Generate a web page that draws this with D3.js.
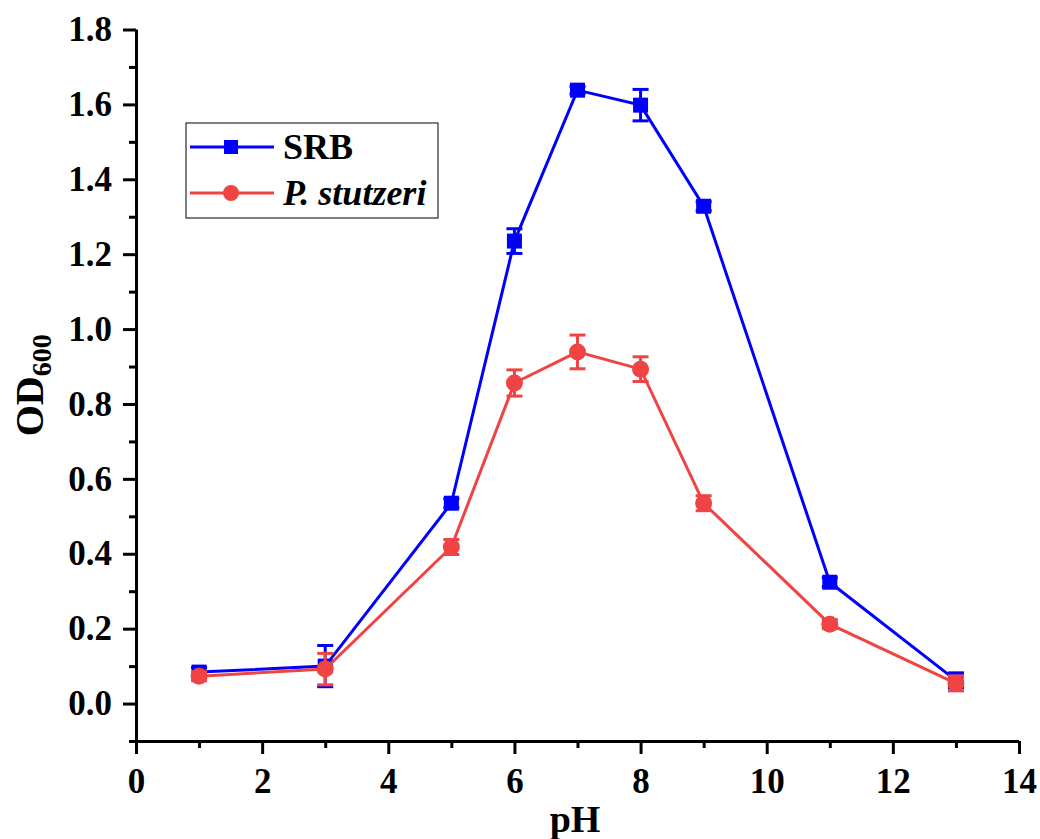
<!DOCTYPE html>
<html>
<head>
<meta charset="utf-8">
<script src="https://cdn.jsdelivr.net/npm/d3@7"></script>
<style>
    body { margin: 0; background: #fff; }
    svg text { font-family: "Liberation Serif", "Times New Roman", serif; font-weight: bold; }
</style>
</head>
<body>
<div id="chart"></div>
<script>
// pH values and OD600 readings
const phValues = [1, 3, 5, 6, 7, 8, 9, 11, 13];
const srbValues = [0.084, 0.100, 0.535, 1.235, 1.638, 1.598, 1.328, 0.324, 0.062];
const srbErrors = [0.012, 0.055, 0.012, 0.033, 0.010, 0.042, 0.012, 0.012, 0.020];
const stutzeriValues = [0.073, 0.092, 0.418, 0.856, 0.939, 0.893, 0.535, 0.212, 0.054];
const stutzeriErrors = [0.012, 0.042, 0.020, 0.035, 0.045, 0.033, 0.020, 0.012, 0.020];
const xTicks = [0, 2, 4, 6, 8, 10, 12, 14];
const yTicks = [0.0, 0.2, 0.4, 0.6, 0.8, 1.0, 1.2, 1.4, 1.6, 1.8];

const width = 1040, height = 839;
const plot = { left: 136, right: 1019, top: 29.5, bottom: 741 };

let svg = d3.select("#chart").append("svg")
    .attr("width", width)
    .attr("height", height);

let x = d3.scaleLinear().domain([0, 14]).range([plot.left, plot.right]);
let y = d3.scaleLinear().domain([-0.1, 1.8]).range([plot.bottom, plot.top]);

// axes: major ticks with labels, minor ticks in between
let xAxis = svg.append("g")
    .attr("transform", "translate(0," + plot.bottom + ")")
    .call(d3.axisBottom(x).tickValues(xTicks).tickSize(13).tickPadding(14).tickFormat(d3.format("d")));
svg.append("g")
    .attr("transform", "translate(0," + plot.bottom + ")")
    .call(d3.axisBottom(x).tickValues(d3.range(1, 14, 2)).tickSize(7).tickFormat(""))
    .select(".domain").remove();

let yAxis = svg.append("g")
    .attr("transform", "translate(" + plot.left + ",0)")
    .call(d3.axisLeft(y).tickValues(yTicks).tickSize(13).tickPadding(11).tickFormat(d3.format(".1f")));
svg.append("g")
    .attr("transform", "translate(" + plot.left + ",0)")
    .call(d3.axisLeft(y).tickValues(d3.range(-0.1, 1.75, 0.2)).tickSize(7).tickFormat(""))
    .select(".domain").remove();

svg.selectAll(".domain").attr("stroke", "#000").attr("stroke-width", 3);
xAxis.select(".domain").attr("d", "M" + (plot.left - 1.5) + ",0.5H" + plot.right);
yAxis.select(".domain").attr("d", "M0.5," + plot.top + "V" + (plot.bottom + 1.5));
svg.selectAll(".tick line").attr("stroke", "#000").attr("stroke-width", 3);
svg.selectAll(".tick text").attr("fill", "#000").style("font-size", "35px");

// axis titles
svg.append("text")
    .attr("x", 575)
    .attr("y", 832)
    .attr("text-anchor", "middle")
    .style("font-size", "38px")
    .text("pH");

let yTitle = svg.append("text")
    .attr("transform", "translate(43," + y(0.85) + ") rotate(-90)")
    .attr("text-anchor", "middle")
    .style("font-size", "40px");
yTitle.append("tspan").text("OD");
yTitle.append("tspan").attr("dy", 8).style("font-size", "28px").text("600");

// series
const series = [
    { name: "SRB", values: srbValues, errors: srbErrors, color: "#0000ff", shape: "square" },
    { name: "P. stutzeri", values: stutzeriValues, errors: stutzeriErrors, color: "#f04444", shape: "circle" }
];

let line = d3.line().x(d => x(d.ph)).y(d => y(d.v));

series.forEach(function (s) {
    let pts = phValues.map((ph, i) => ({ ph: ph, v: s.values[i], e: s.errors[i] }));
    let g = svg.append("g");

    g.append("path")
        .datum(pts)
        .attr("fill", "none")
        .attr("stroke", s.color)
        .attr("stroke-width", 3)
        .attr("d", line);

    let eb = g.selectAll(".err").data(pts).enter().append("g")
        .attr("stroke", s.color).attr("stroke-width", 3);
    eb.append("line")
        .attr("x1", d => x(d.ph)).attr("x2", d => x(d.ph))
        .attr("y1", d => y(d.v + d.e)).attr("y2", d => y(d.v - d.e));
    eb.append("line")
        .attr("x1", d => x(d.ph) - 8).attr("x2", d => x(d.ph) + 8)
        .attr("y1", d => y(d.v + d.e)).attr("y2", d => y(d.v + d.e));
    eb.append("line")
        .attr("x1", d => x(d.ph) - 8).attr("x2", d => x(d.ph) + 8)
        .attr("y1", d => y(d.v - d.e)).attr("y2", d => y(d.v - d.e));

    if (s.shape === "square") {
        g.selectAll(".mk").data(pts).enter().append("rect")
            .attr("x", d => x(d.ph) - 7.5).attr("y", d => y(d.v) - 7.5)
            .attr("width", 15).attr("height", 15)
            .attr("fill", s.color);
    } else {
        g.selectAll(".mk").data(pts).enter().append("circle")
            .attr("cx", d => x(d.ph)).attr("cy", d => y(d.v))
            .attr("r", 8.5)
            .attr("fill", s.color);
    }
});

// legend
let legend = svg.append("g");
legend.append("rect")
    .attr("x", 186).attr("y", 123)
    .attr("width", 252).attr("height", 95)
    .attr("fill", "#fff").attr("stroke", "#000").attr("stroke-width", 1);

series.forEach(function (s, i) {
    let ly = 147 + i * 46;
    legend.append("line")
        .attr("x1", 190).attr("x2", 274).attr("y1", ly).attr("y2", ly)
        .attr("stroke", s.color).attr("stroke-width", 3);
    if (s.shape === "square") {
        legend.append("rect").attr("x", 224).attr("y", ly - 7).attr("width", 14).attr("height", 14).attr("fill", s.color);
    } else {
        legend.append("circle").attr("cx", 231).attr("cy", ly).attr("r", 8).attr("fill", s.color);
    }
    legend.append("text")
        .attr("x", 283).attr("y", ly + 12)
        .style("font-size", "36px")
        .style("font-style", i === 1 ? "italic" : "normal")
        .text(s.name);
});
</script>
</body>
</html>
